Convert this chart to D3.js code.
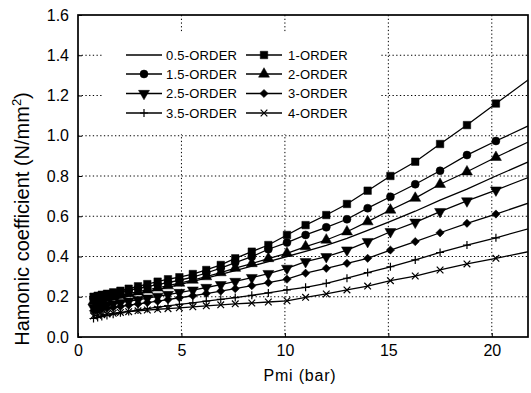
<!DOCTYPE html>
<html>
<head>
<meta charset="utf-8">
<script src="https://cdn.jsdelivr.net/npm/d3@7"></script>
<style>
body { margin: 0; background: #fff; }
text { font-family: Arial, "Liberation Sans", Helvetica, sans-serif; fill: #000; }
</style>
</head>
<body>
<div id="chart"></div>
<script>
// data
const pmi = [0.75, 0.95, 1.15, 1.4, 1.7, 2.05, 2.45, 2.9, 3.35, 3.85, 4.35, 4.9, 5.55, 6.2, 6.9, 7.6, 8.4, 9.2, 10.1, 11.0, 12.0, 13.0, 14.0, 15.1, 16.3, 17.5, 18.8, 20.2, 22.2];
const order05 = [0.165, 0.170, 0.174, 0.180, 0.186, 0.194, 0.203, 0.213, 0.224, 0.235, 0.247, 0.260, 0.276, 0.292, 0.311, 0.330, 0.352, 0.375, 0.400, 0.425, 0.455, 0.490, 0.530, 0.575, 0.625, 0.680, 0.735, 0.800, 0.890];
const order1 = [0.200, 0.205, 0.210, 0.215, 0.222, 0.230, 0.240, 0.252, 0.263, 0.275, 0.287, 0.297, 0.313, 0.333, 0.358, 0.391, 0.424, 0.457, 0.507, 0.556, 0.606, 0.661, 0.727, 0.800, 0.871, 0.959, 1.053, 1.160, 1.311];
const order15 = [0.192, 0.197, 0.202, 0.208, 0.215, 0.223, 0.232, 0.241, 0.250, 0.260, 0.270, 0.282, 0.298, 0.318, 0.342, 0.370, 0.399, 0.436, 0.469, 0.507, 0.545, 0.585, 0.640, 0.697, 0.759, 0.826, 0.904, 0.974, 1.070];
const order2 = [0.177, 0.182, 0.187, 0.193, 0.200, 0.208, 0.216, 0.225, 0.234, 0.244, 0.255, 0.268, 0.283, 0.300, 0.320, 0.342, 0.365, 0.390, 0.416, 0.449, 0.482, 0.523, 0.573, 0.631, 0.690, 0.759, 0.821, 0.893, 0.990];
const order25 = [0.146, 0.150, 0.154, 0.159, 0.165, 0.171, 0.178, 0.185, 0.193, 0.202, 0.211, 0.221, 0.233, 0.246, 0.260, 0.276, 0.295, 0.315, 0.341, 0.374, 0.399, 0.432, 0.474, 0.523, 0.570, 0.623, 0.676, 0.730, 0.810];
const order3 = [0.130, 0.134, 0.138, 0.142, 0.147, 0.152, 0.158, 0.164, 0.171, 0.178, 0.186, 0.195, 0.205, 0.216, 0.228, 0.240, 0.255, 0.270, 0.287, 0.317, 0.341, 0.366, 0.391, 0.432, 0.474, 0.518, 0.565, 0.611, 0.680];
const order35 = [0.092, 0.097, 0.102, 0.107, 0.113, 0.120, 0.127, 0.134, 0.141, 0.148, 0.155, 0.162, 0.170, 0.178, 0.187, 0.196, 0.207, 0.219, 0.234, 0.247, 0.267, 0.292, 0.320, 0.349, 0.383, 0.420, 0.457, 0.493, 0.550];
const order4 = [0.105, 0.108, 0.111, 0.114, 0.118, 0.122, 0.126, 0.130, 0.134, 0.138, 0.141, 0.145, 0.150, 0.155, 0.160, 0.165, 0.169, 0.174, 0.180, 0.197, 0.214, 0.234, 0.253, 0.280, 0.303, 0.333, 0.363, 0.391, 0.433];

const seriesNames = ['0.5-ORDER', '1-ORDER', '1.5-ORDER', '2-ORDER', '2.5-ORDER', '3-ORDER', '3.5-ORDER', '4-ORDER'];
const xTicks = [0, 5, 10, 15, 20];
const yTicks = [0, 0.2, 0.4, 0.6, 0.8, 1.0, 1.2, 1.4, 1.6];

// mise en place
const width = 531;
const height = 393;
const margin = {top: 15, right: 3, bottom: 56, left: 78};
const graphWidth = width - margin.left - margin.right;
const graphHeight = height - margin.top - margin.bottom;

// stroked marker shapes for + and x
const plusType = {draw(ctx, size) { const r = Math.sqrt(size) / 2; ctx.moveTo(-r, 0); ctx.lineTo(r, 0); ctx.moveTo(0, -r); ctx.lineTo(0, r); }};
const timesType = {draw(ctx, size) { const r = Math.sqrt(size) / 2.4; ctx.moveTo(-r, -r); ctx.lineTo(r, r); ctx.moveTo(-r, r); ctx.lineTo(r, -r); }};

const styles = [
    {type: null},
    {type: d3.symbolSquare, size: 56, fill: true},
    {type: d3.symbolCircle, size: 50, fill: true},
    {type: d3.symbolTriangle, size: 52, fill: true},
    {type: d3.symbolTriangle, size: 52, fill: true, rotate: 180},
    {type: d3.symbolSquare, size: 34, fill: true, rotate: 45},
    {type: plusType, size: 64, fill: false},
    {type: timesType, size: 64, fill: false}
];

const allSeries = [order05, order1, order15, order2, order25, order3, order35, order4];
const series = seriesNames.map((name, i) => ({
    name: name,
    style: styles[i],
    values: pmi.map((x, j) => ({x: x, y: allSeries[i][j]}))
}));

const xScale = d3.scaleLinear()
    .domain([0, 21.75])
    .range([0, graphWidth]);

const yScale = d3.scaleLinear()
    .domain([0, 1.6])
    .range([graphHeight, 0]);

const svg = d3.select('#chart')
    .append('svg')
    .attr('width', width)
    .attr('height', height);

const graph = svg.append('g')
    .attr('transform', `translate(${margin.left}, ${margin.top})`);

svg.append('defs').append('clipPath')
    .attr('id', 'clip')
    .append('rect')
    .attr('width', graphWidth)
    .attr('height', graphHeight);

// dotted grid
graph.append('g')
    .selectAll('line')
    .data(xTicks.filter(d => d > 0))
    .enter().append('line')
    .attr('x1', d => xScale(d)).attr('x2', d => xScale(d))
    .attr('y1', 0).attr('y2', graphHeight)
    .attr('stroke', '#000')
    .attr('stroke-width', 1)
    .attr('stroke-dasharray', '1.3,2.4');

graph.append('g')
    .selectAll('line')
    .data(yTicks.filter(d => d > 0 && d < 1.6))
    .enter().append('line')
    .attr('x1', 0).attr('x2', graphWidth)
    .attr('y1', d => yScale(d)).attr('y2', d => yScale(d))
    .attr('stroke', '#000')
    .attr('stroke-width', 1)
    .attr('stroke-dasharray', '1.3,2.4');

// legend background hides the grid behind it
graph.append('rect')
    .attr('x', 24).attr('y', 18)
    .attr('width', 278).attr('height', 101)
    .attr('fill', '#fff');

// axes
const xAxis = d3.axisBottom(xScale)
    .tickValues(xTicks)
    .tickSizeInner(-4)
    .tickSizeOuter(0)
    .tickPadding(8);

const yAxis = d3.axisLeft(yScale)
    .tickValues(yTicks)
    .tickFormat(d3.format('.1f'))
    .tickSizeInner(-4)
    .tickSizeOuter(0)
    .tickPadding(9);

graph.append('g')
    .attr('transform', `translate(0, ${graphHeight})`)
    .call(xAxis)
    .call(g => g.select('.domain').remove())
    .selectAll('text').attr('font-size', 16).attr('font-family', null);

graph.append('g')
    .call(yAxis)
    .call(g => g.select('.domain').remove())
    .selectAll('text').attr('font-size', 16).attr('font-family', null);

graph.append('rect')
    .attr('width', graphWidth)
    .attr('height', graphHeight)
    .attr('fill', 'none')
    .attr('stroke', '#000')
    .attr('stroke-width', 1.7);

// series
const line = d3.line()
    .x(d => xScale(d.x))
    .y(d => yScale(d.y));

const plot = graph.append('g').attr('clip-path', 'url(#clip)');

series.forEach(s => {
    plot.append('path')
        .datum(s.values)
        .attr('fill', 'none')
        .attr('stroke', '#000')
        .attr('stroke-width', 1.3)
        .attr('d', line);
    if (!s.style.type) return;
    plot.append('g')
        .selectAll('path')
        .data(s.values)
        .enter().append('path')
        .attr('transform', d => `translate(${xScale(d.x)}, ${yScale(d.y)}) rotate(${s.style.rotate || 0})`)
        .attr('d', d3.symbol().type(s.style.type).size(s.style.size))
        .attr('fill', s.style.fill ? '#000' : 'none')
        .attr('stroke', '#000')
        .attr('stroke-width', s.style.fill ? 0.5 : 1.2);
});

// legend
const legend = graph.append('g');
const rowY = [40, 59, 78.5, 98];
const cols = [{x: 48, text: 88}, {x: 168, text: 210}];

series.forEach((s, i) => {
    const col = cols[i % 2];
    const y = rowY[Math.floor(i / 2)];
    const item = legend.append('g');
    item.append('line')
        .attr('x1', col.x).attr('x2', col.x + 36)
        .attr('y1', y).attr('y2', y)
        .attr('stroke', '#000')
        .attr('stroke-width', 1.3);
    if (s.style.type) {
        item.append('path')
            .attr('transform', `translate(${col.x + 18}, ${y}) rotate(${s.style.rotate || 0})`)
            .attr('d', d3.symbol().type(s.style.type).size(s.style.size))
            .attr('fill', s.style.fill ? '#000' : 'none')
            .attr('stroke', '#000')
            .attr('stroke-width', s.style.fill ? 0.5 : 1.2);
    }
    item.append('text')
        .attr('x', col.text)
        .attr('y', y)
        .attr('dy', '0.35em')
        .attr('font-size', 13)
        .attr('letter-spacing', 0.2)
        .text(s.name);
});

// axis titles
svg.append('text')
    .attr('x', 300)
    .attr('y', 381)
    .attr('text-anchor', 'middle')
    .attr('font-size', 16)
    .attr('letter-spacing', 0.8)
    .text('Pmi (bar)');

const yTitle = svg.append('text')
    .attr('transform', 'translate(29, 219) rotate(-90)')
    .attr('text-anchor', 'middle')
    .attr('font-size', 20);
yTitle.append('tspan').text('Hamonic coefficient (N/mm');
yTitle.append('tspan').attr('font-size', 13).attr('dy', -8).text('2');
yTitle.append('tspan').attr('dy', 8).text(')');
</script>
</body>
</html>
